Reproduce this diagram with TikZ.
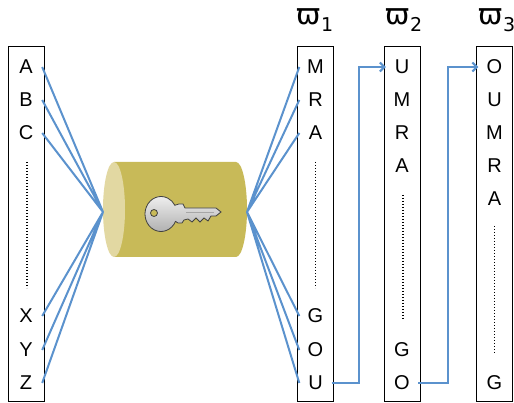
\documentclass[tikz,border=0pt]{standalone}
\usepackage{fontspec}
\setmainfont{Liberation Sans}
\newfontfamily\greekfont{DejaVu Sans}
\usetikzlibrary{calc,arrows.meta}

\definecolor{wireblue}{RGB}{91,146,205}
\definecolor{drumbody}{RGB}{200,186,88}
\definecolor{drumface}{RGB}{226,216,162}

\begin{document}
\begin{tikzpicture}[x=1pt,y=1pt,>={Straight Barb[length=4.5pt,width=9pt]}]
    \tikzset{
        column/.style={draw=black,line width=1pt,minimum width=36,minimum height=355,inner sep=0pt},
        letter/.style={font=\fontsize{20}{24}\selectfont,minimum width=32,inner sep=0pt},
        title/.style={font=\greekfont\fontsize{29}{32}\selectfont,inner sep=0pt},
        wire/.style={draw=wireblue,line width=2pt},
        dots/.style={line width=1.9pt,dash pattern=on 1.3pt off 1.7pt}
    }
    \useasboundingbox (0,0) rectangle (514,403);

    % the columns
    \node[column] (plain) at (26,178.5) {};
    \node[column] (rot1) at (315.5,178.5) {};
    \node[column] (rot2) at (402,178.5) {};
    \node[column] (rot3) at (494.5,178.5) {};

    \node[title] (w1) at (315,383) {ϖ\raisebox{-7pt}{\fontsize{19}{22}\selectfont 1}};
    \node[title] (w2) at (404,383) {ϖ\raisebox{-7pt}{\fontsize{19}{22}\selectfont 2}};
    \node[title] (w3) at (497,383) {ϖ\raisebox{-7pt}{\fontsize{19}{22}\selectfont 3}};

    \node[letter] (A) at (26,336) {A}; \node[letter] (B) at (26,303) {B}; \node[letter] (C) at (26,270) {C};
    \node[letter] (X) at (26,87) {X}; \node[letter] (Y) at (26,53) {Y}; \node[letter] (Z) at (26,20) {Z};
    \draw[dots] (27,241) -- (27,115);

    \node[letter] (M1) at (315.5,336) {M}; \node[letter] (R1) at (315.5,303) {R}; \node[letter] (A1) at (315.5,270) {A};
    \node[letter] (G1) at (315.5,87) {G}; \node[letter] (O1) at (315.5,53) {O}; \node[letter] (U1) at (315.5,20) {U};
    \draw[dots] (315.5,241) -- (315.5,115);

    \node[letter] (U2) at (402,336) {U}; \node[letter] (M2) at (402,303) {M}; \node[letter] (R2) at (402,270) {R};
    \node[letter] (A2) at (402,237) {A}; \node[letter] (G2) at (402,53) {G}; \node[letter] (O2) at (402,20) {O};
    \draw[dots] (403,208) -- (403,83);

    \node[letter] (O3) at (494.5,336) {O}; \node[letter] (U3) at (494.5,303) {U}; \node[letter] (M3) at (494.5,270) {M};
    \node[letter] (R3) at (494.5,237) {R}; \node[letter] (A3) at (494.5,204) {A}; \node[letter] (G3) at (494.5,20) {G};
    \draw[dots] (494.5,177) -- (494.5,50);

    % the drum with the key
    \fill[drumbody] (114,146) -- (236,146) arc[start angle=-90,end angle=90,x radius=11,y radius=47.5] -- (114,241) -- cycle;
    \fill[drumface] (114,193.5) ellipse[x radius=11,y radius=47.5];
    \coordinate (feed) at (103,191);
    \coordinate (exit) at (247,191);

    \path[draw=black!75,line width=0.8pt,top color=gray!10,bottom color=gray!65]
        (161,189) ++(30:16 and 17.5) -- (179,199) -- (183,199) -- (185,195) -- (216,195) -- (221,191) -- (216,187)
        -- (211,187) -- (208,182) -- (204,185) -- (200,181) -- (196,185) -- (192,181) -- (188,184) -- (184,183)
        -- (182,180) -- (178,180) -- (175.5,181.6) arc[start angle=-25,end angle=-330,x radius=16,y radius=17.5] -- cycle;
    \draw[gray!70,line width=0.8pt] (186,191) -- (214,191);
    \filldraw[fill=drumbody,draw=black!75,line width=0.8pt] (154,190) circle[radius=3.5];

    % wiring
    \draw[wire] (A.east) -- (feed) (B.east) -- (feed) (C.east) -- (feed)
                (X.east) -- (feed) (Y.east) -- (feed) (Z.east) -- (feed);
    \draw[wire] (exit) -- (M1.west) (exit) -- (R1.west) (exit) -- (A1.west)
                (exit) -- (G1.west) (exit) -- (O1.west) (exit) -- (U1.west);
    \draw[wire,->] (U1.east) -- ++(27.5,0) |- (U2.west);
    \draw[wire,->] (O2.east) -- ++(30,0) |- (O3.west);
\end{tikzpicture}
\end{document}
